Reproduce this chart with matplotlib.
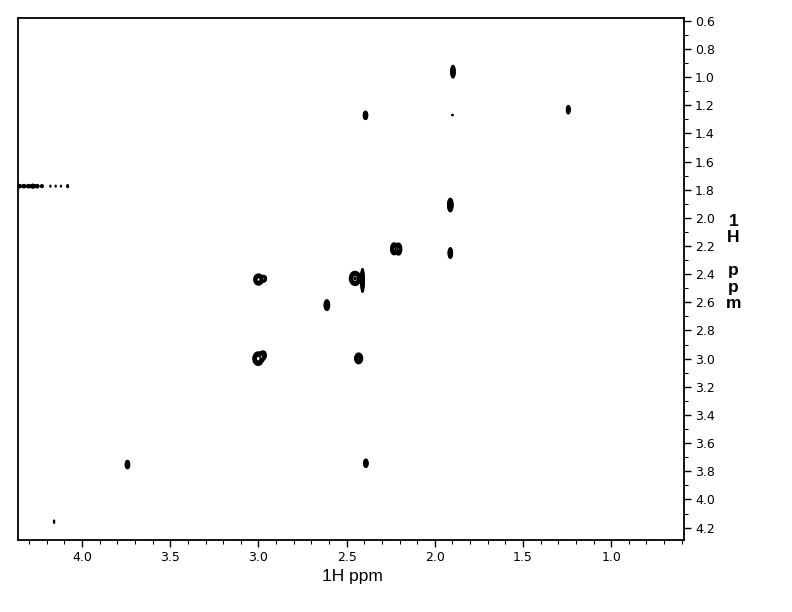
import numpy as np
import matplotlib
matplotlib.use("Agg")
import matplotlib.pyplot as plt
from matplotlib.ticker import MultipleLocator, FormatStrFormatter

# ---- Data (ppm) ----
# cross / diagonal peaks: F2 (x) position, F1 (y) position, half-widths, amplitude
peak_f2 = [1.897, 1.900, 1.243, 1.912, 1.912, 2.232, 2.205, 2.393, 2.391,
           3.000, 2.968, 2.452, 2.410, 2.612, 3.002, 2.972, 2.432,
           3.743, 4.159]
peak_f1 = [0.962, 1.270, 1.232, 1.909, 2.250, 2.220, 2.222, 1.272, 3.743,
           2.438, 2.432, 2.430, 2.445, 2.620, 3.000, 2.975, 2.998,
           3.752, 4.158]
peak_w2 = [0.011, 0.008, 0.009, 0.014, 0.011, 0.017, 0.016, 0.011, 0.011,
           0.024, 0.013, 0.032, 0.009, 0.014, 0.027, 0.016, 0.021,
           0.011, 0.003]
peak_w1 = [0.043, 0.005, 0.028, 0.046, 0.036, 0.040, 0.040, 0.028, 0.028,
           0.036, 0.022, 0.050, 0.090, 0.036, 0.044, 0.030, 0.036,
           0.028, 0.020]
peak_amp = [4.0, 1.4, 4.0, 4.0, 4.0, 4.0, 4.0, 4.0, 4.0,
            4.5, 3.0, 3.6, 3.2, 4.0, 4.5, 3.0, 4.0,
            4.0, 1.5]

# t1-noise streak at F1 = 1.775 ppm near the left edge
streak_f1 = 1.775
streak_f2 = [4.355, 4.330, 4.305, 4.280, 4.255, 4.228, 4.180, 4.150, 4.120, 4.082]
streak_w2 = [0.011, 0.011, 0.010, 0.013, 0.011, 0.009, 0.004, 0.004, 0.004, 0.005]
streak_amp = [2.5, 2.5, 2.5, 3.5, 2.5, 2.0, 1.3, 1.3, 1.3, 2.0]
streak_w1 = 0.012

x_lim = (4.362, 0.587)
y_lim = (4.288, 0.583)
x_major, x_minor = 0.5, 0.1
y_major, y_minor = 0.2, 0.1
contour_levels = [1.0, 1.4, 1.9, 2.6, 3.5]

# ---- Build spectrum surface ----
xs = np.linspace(0.55, 4.40, 2200)
ys = np.linspace(0.55, 4.32, 2000)
X, Y = np.meshgrid(xs, ys)
Z = np.zeros_like(X)


def add_peak(cx, cy, wx, wy, a):
    sx = wx / 1.665
    sy = wy / 1.665
    ix = (xs > cx - 8 * sx) & (xs < cx + 8 * sx)
    iy = (ys > cy - 8 * sy) & (ys < cy + 8 * sy)
    sub = np.ix_(iy, ix)
    Z[sub] += a * np.exp(-0.5 * (((X[sub] - cx) / sx) ** 2 + ((Y[sub] - cy) / sy) ** 2))


for cx, cy, wx, wy, a in zip(peak_f2, peak_f1, peak_w2, peak_w1, peak_amp):
    add_peak(cx, cy, wx, wy, a)
for cx, wx, a in zip(streak_f2, streak_w2, streak_amp):
    add_peak(cx, streak_f1, wx, streak_w1, a)

# ---- Figure ----
fig = plt.figure(figsize=(7.92, 6.12), dpi=100)
ax = fig.add_axes([0.0231, 0.1176, 0.8405, 0.8525])
ax.contour(X, Y, Z, levels=contour_levels, colors="black", linewidths=1.3)
ax.set_xlim(*x_lim)
ax.set_ylim(*y_lim)

for s in ax.spines.values():
    s.set_linewidth(1.3)
    s.set_color("black")

ax.yaxis.tick_right()
ax.xaxis.set_major_locator(MultipleLocator(x_major))
ax.xaxis.set_minor_locator(MultipleLocator(x_minor))
ax.yaxis.set_major_locator(MultipleLocator(y_major))
ax.yaxis.set_minor_locator(MultipleLocator(y_minor))
ax.xaxis.set_major_formatter(FormatStrFormatter("%.1f"))
ax.yaxis.set_major_formatter(FormatStrFormatter("%.1f"))
ax.tick_params(which="major", length=5, width=1.0, color="black")
ax.tick_params(which="minor", length=3, width=0.8, color="black")
ax.tick_params(axis="x", which="both", bottom=True, top=False, direction="out", pad=3)
ax.tick_params(axis="y", which="both", right=True, left=False, direction="out", pad=3)
for lab in ax.get_xticklabels() + ax.get_yticklabels():
    lab.set_family(["Liberation Sans Narrow", "DejaVu Sans"])
    lab.set_fontsize(9)

fig.text(0.445, 0.058, "1H ppm", ha="center", va="center",
         fontsize=12.5, family=["Liberation Sans", "DejaVu Sans"])
fig.text(0.926, 0.571, "1\nH\n\np\np\nm", ha="center", va="center",
         fontsize=12.5, fontweight="bold", linespacing=1.13,
         family=["Liberation Sans", "DejaVu Sans"])

fig.savefig("out.png", dpi=100)
